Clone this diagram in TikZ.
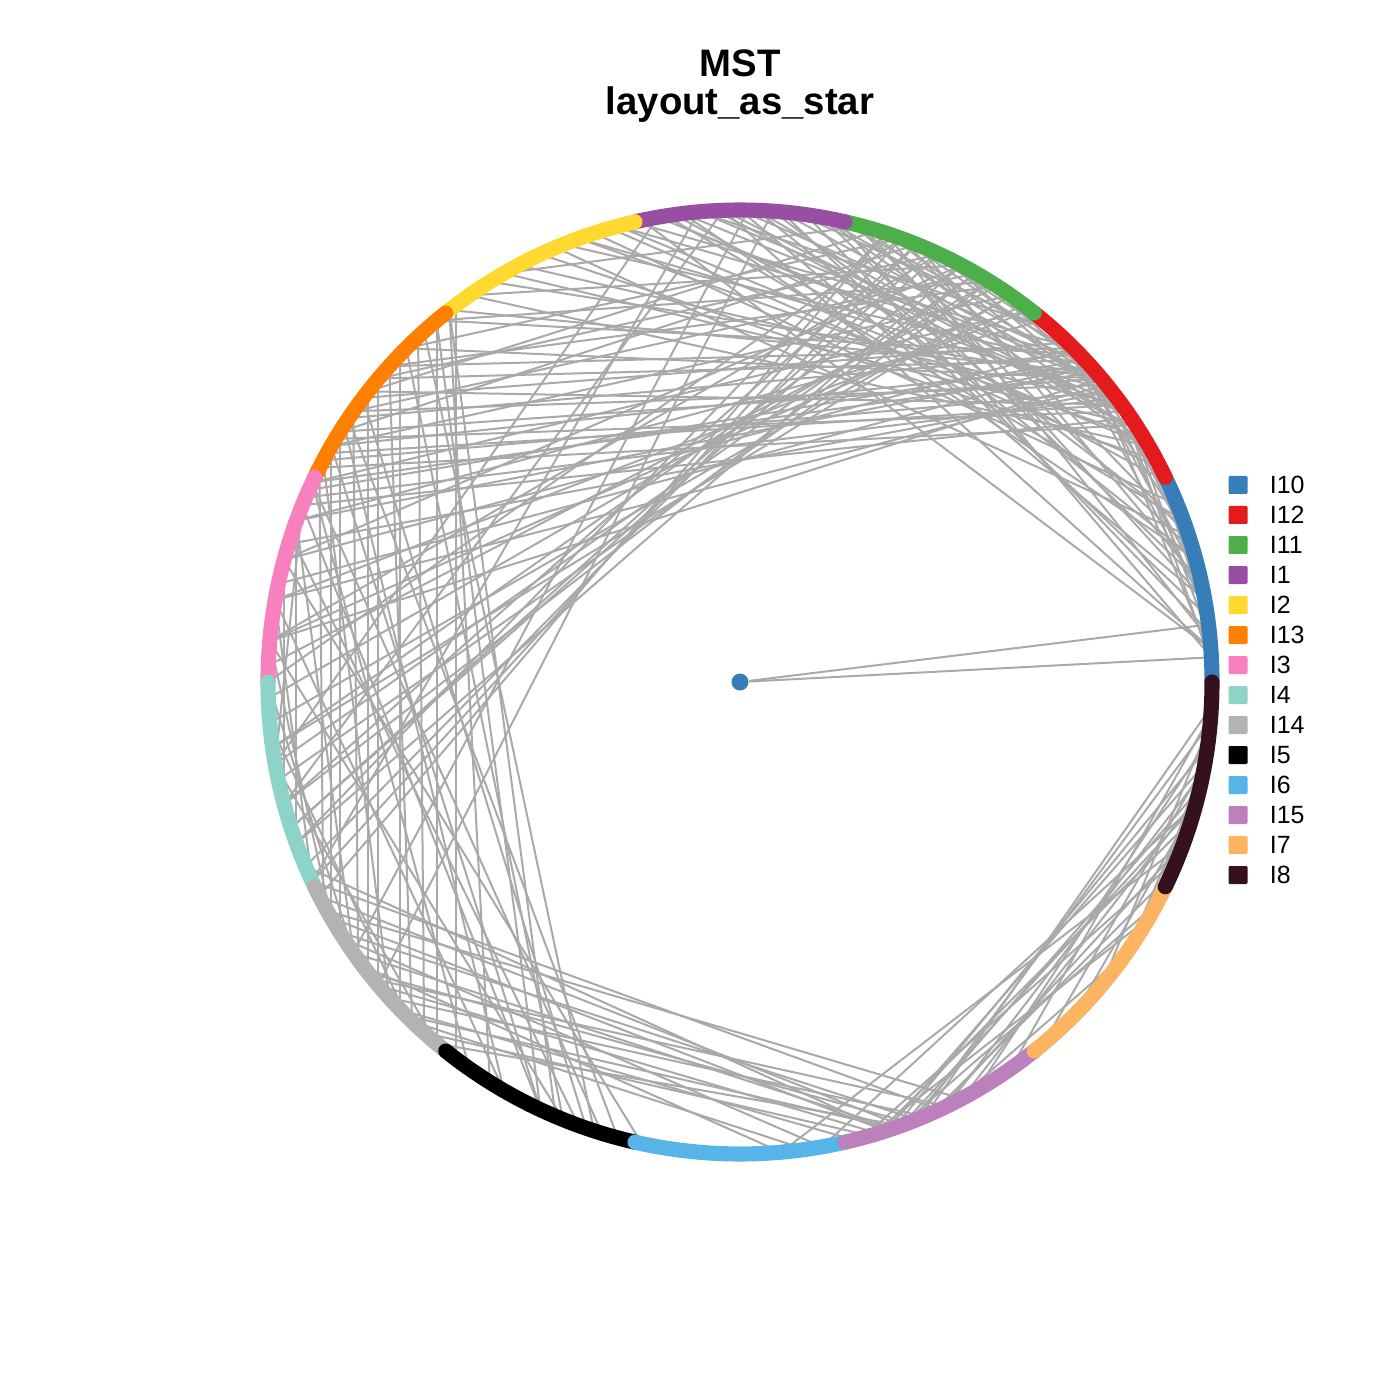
\documentclass[tikz,border=0pt]{standalone}
\usepackage{fontspec}
\setmainfont{Liberation Sans}
\usetikzlibrary{positioning}

\definecolor{cIten}{HTML}{377EB8}
\definecolor{cItwelve}{HTML}{E41A1C}
\definecolor{cIeleven}{HTML}{4DAF4A}
\definecolor{cIone}{HTML}{984EA3}
\definecolor{cItwo}{HTML}{FFD92F}
\definecolor{cIthirteen}{HTML}{FF7F00}
\definecolor{cIthree}{HTML}{F781BF}
\definecolor{cIfour}{HTML}{8DD3C7}
\definecolor{cIfourteen}{HTML}{B3B3B3}
\definecolor{cIfive}{HTML}{000000}
\definecolor{cIsix}{HTML}{56B4E9}
\definecolor{cIfifteen}{HTML}{BC80BD}
\definecolor{cIseven}{HTML}{FDB462}
\definecolor{cIeight}{HTML}{35101F}
\definecolor{edgegray}{HTML}{A9A9A9}

\tikzset{
  edge/.style={draw=edgegray, line width=0.57pt},
  seg/.style={line width=4.3pt, line cap=round},
  hub/.style={circle, fill=cIten, inner sep=0pt, minimum size=0.17cm},
  plottitle/.style={font=\fontsize{10.9}{12}\selectfont\bfseries, anchor=base},
  legbox/.style={fill=#1, inner sep=0pt, minimum width=0.19cm, minimum height=0.18cm, rounded corners=0.3pt},
  leglab/.style={font=\fontsize{7.1}{8}\selectfont, inner sep=0pt, anchor=west}
}

\begin{document}
\begin{tikzpicture}
    \useasboundingbox (-7.40,-7.18) rectangle (6.60,6.82);
    \def\R{4.72}

    % 圆周上的点, 每度一个
    \foreach \a in {0,...,359}
        \coordinate (v\a) at (\a:\R);

    \node[hub] (c) at (0,0) {};
    \draw[edge] (c) -- (v3);
    \draw[edge] (c) -- (v7);

    % MST 的边
    \foreach \s/\t in {
        42/150,40/148,38/152,44/146,41/155,36/151,43/140,39/145,45/138,37/157,
        35/149,42/160,40/135,46/143,33/153,44/130,38/163,41/128,36/142,43/156,
        39/170,34/158,45/165,40/175,42/168,
        100/35,105/30,110/38,115/28,120/33,98/25,95/40,108/22,112/42,118/36,
        103/45,125/30,93/32,99/20,106/27,122/40,97/15,113/18,
        55/185,60/190,62/188,65/175,58/182,70/180,52/170,62/165,57/178,68/195,
        72/200,53/175,66/198,
        75/10,72/5,80/12,85/8,70/18,78/3,88/15,82/6,90/10,68/12,76/16,92/4,102/4,86/19,
        127/233,130/230,133/228,136/224,140/220,143/251,145/216,148/212,150/210,153/208,
        138/226,135/248,142/218,147/240,155/235,132/252,158/245,160/215,128/238,152/222,
        207/290,210/288,212/292,215/289,218/291,220/287,222/293,225/289,228/286,205/295,
        213/280,217/275,224/284,230/290,209/298,226/278,203/288,219/296,
        288/350,290/345,292/355,295/340,289/352,291/347,293/357,287/343,296/349,285/338,
        300/353,298/346,294/336,290/332,305/356,310/350,315/345,320/355,325/348,330/352,
        286/330,297/325,280/345,275/340,
        5/35,8/40,12/45,15/38,10/30,3/42,18/48,6/28,14/33,20/44,2/36,9/47,
        35/72,40/80,45/68,30/75,42/90,38/85,48/95,33/65,44/78,36/100,
        32/88,46/62,41/70,39/97,47/83,34/92,43/105,37/60,29/80,31/110,
        55/150,60/145,65/140,70/135,52/155,58/130,62/125,68/148,73/142,50/160,57/138,75/120,
        200/62,195/60,205/70,198/65,192/58,203/68,188/55,207/72,
        89/215,95/205,92/195,100/190,86/220,
        155/253,162/250,150/245,170/240,146/255,165/258,175/248,
        160/200,165/195,170/205,175/210,158/190,180/215,185/225,190/230,
        130/245,128/247}
        \draw[edge] (v\s) -- (v\t);

    % 各组的彩色圆弧
    \foreach \col [count=\k from 0] in {cIten,cItwelve,cIeleven,cIone,cItwo,cIthirteen,cIthree,
                                       cIfour,cIfourteen,cIfive,cIsix,cIfifteen,cIseven,cIeight}
        \draw[seg, \col] ({\k*360/14}:\R) arc[start angle={\k*360/14}, end angle={(\k+1)*360/14}, radius=\R];

    \node[plottitle] (t1) at (0,6.05) {MST};
    \node[plottitle] (t2) at (0,5.67) {layout\_as\_star};

    % 图例
    \foreach \lab/\col [count=\k from 0] in {I10/cIten,I12/cItwelve,I11/cIeleven,I1/cIone,I2/cItwo,
            I13/cIthirteen,I3/cIthree,I4/cIfour,I14/cIfourteen,I5/cIfive,I6/cIsix,I15/cIfifteen,
            I7/cIseven,I8/cIeight} {
        \node[legbox=\col] (key\k) at (4.98,{1.97-0.30*\k}) {};
        \node[leglab, right=0.21cm of key\k] (lab\k) {\lab};
    }
\end{tikzpicture}
\end{document}
